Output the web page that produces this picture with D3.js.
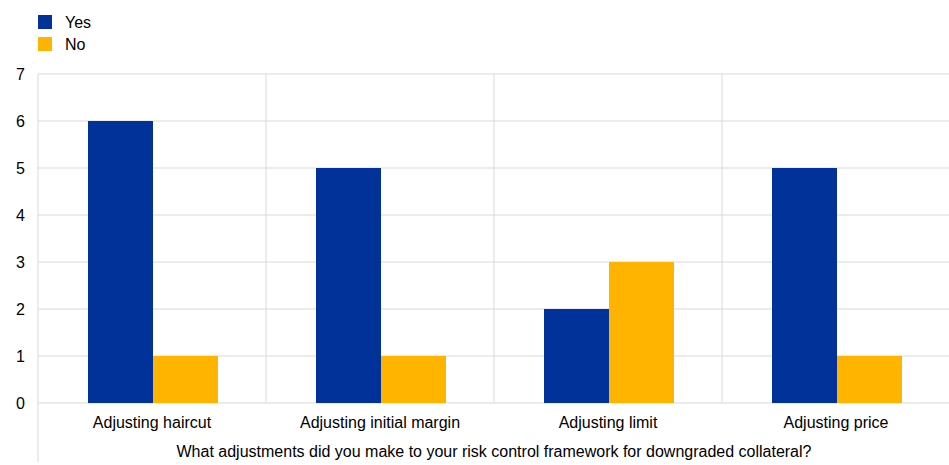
<!DOCTYPE html>
<html><head><meta charset="utf-8">
<script src="https://cdn.jsdelivr.net/npm/d3@7"></script>
<style>body{margin:0;background:#fff}svg{display:block}text{font-family:"Liberation Sans",Arial,sans-serif;fill:#000}</style>
</head><body><svg id="c" width="949" height="465"></svg>
<script>
const categories = ["Adjusting haircut","Adjusting initial margin","Adjusting limit","Adjusting price"];
const seriesNames = ["Yes","No"];
const yesValues = [6,5,2,5];
const noValues = [1,1,3,1];
const yTicks = [0,1,2,3,4,5,6,7];
const colors = ["#003299","#FFB400"];
const xTitle = "What adjustments did you make to your risk control framework for downgraded collateral?";

const svg = d3.select("#c");
const L=38,R=950,T=74,B=403;
const FS=16;
const x = d3.scaleBand().domain(categories).range([L,R]).paddingInner(0).paddingOuter(0);
const y = d3.scaleLinear().domain([0,7]).range([B,T]);
const grid="#d9d9d9";
svg.append("g").selectAll("line").data(yTicks).join("line")
 .attr("x1",L).attr("x2",R).attr("y1",d=>y(d)).attr("y2",d=>y(d)).attr("stroke",grid).attr("stroke-width",1);
svg.append("g").selectAll("line").data(categories.slice(1)).join("line")
 .attr("x1",d=>x(d)).attr("x2",d=>x(d)).attr("y1",T).attr("y2",B).attr("stroke",grid);
svg.append("line").attr("x1",L).attr("x2",L).attr("y1",T).attr("y2",462).attr("stroke",grid);
const bw = x.bandwidth();
const sub = d3.scaleBand().domain(seriesNames).range([bw*50/228, bw*180/228]).padding(0);
const data = categories.map((c,i)=>({c,vals:[yesValues[i],noValues[i]]}));
const g = svg.append("g");
data.forEach(d=>{
  d.vals.forEach((v,j)=>{
    g.append("rect").attr("x",x(d.c)+sub(seriesNames[j])).attr("width",sub.bandwidth())
     .attr("y",y(v)).attr("height",y(0)-y(v)).attr("fill",colors[j]);
  });
});
svg.append("g").selectAll("text").data(yTicks).join("text")
 .attr("x",25).attr("y",d=>y(d)).attr("dy","0.35em").attr("text-anchor","end").attr("font-size",FS).text(d=>d);
svg.append("g").selectAll("text").data(categories).join("text")
 .attr("x",d=>x(d)+bw/2).attr("y",428).attr("text-anchor","middle").attr("font-size",FS).text(d=>d);
svg.append("text").attr("x",(L+R)/2).attr("y",457).attr("text-anchor","middle").attr("font-size",FS).text(xTitle);
const lg = svg.append("g");
seriesNames.forEach((s,i)=>{
  lg.append("rect").attr("x",38).attr("y",15+i*22).attr("width",14).attr("height",14).attr("fill",colors[i]);
  lg.append("text").attr("x",65).attr("y",22+i*22).attr("dy","0.35em").attr("font-size",FS).text(s);
});
</script></body></html>
